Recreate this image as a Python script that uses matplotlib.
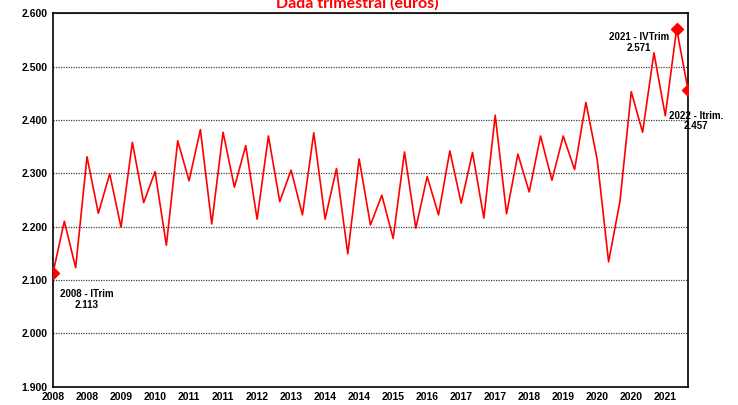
import numpy as np
import matplotlib.pyplot as plt
from matplotlib.ticker import FuncFormatter

# Quarterly values 2008 Q1 .. 2022 Q1 (euros)
values = [2113, 2210, 2123, 2331, 2225, 2299, 2199, 2358, 2245, 2303,
          2165, 2361, 2286, 2382, 2205, 2377, 2274, 2352, 2214, 2370,
          2247, 2306, 2222, 2376, 2214, 2309, 2149, 2327, 2203, 2259,
          2178, 2340, 2197, 2294, 2222, 2342, 2244, 2339, 2216, 2409,
          2224, 2336, 2265, 2370, 2287, 2370, 2307, 2433, 2325, 2134,
          2247, 2453, 2377, 2526, 2408, 2571, 2457]
years = [2008 + i // 4 for i in range(len(values))]
tick_idx = list(range(0, len(values), 3))
tick_labels = [str(years[i]) for i in tick_idx]
marked = [0, 55, 56]
notes = ["2008 - ITrim\n2.113", "2021 - IVTrim\n2.571", "2022 - Itrim.\n2.457"]

x = np.arange(len(values))

fig = plt.figure(figsize=(7.38, 4.05), dpi=100)
ax = fig.add_axes([0.0718, 0.0455, 0.8604, 0.9215])

ax.plot(x, values, color="#ff0000", linewidth=1.2, zorder=3)
ax.plot(x[marked], np.array(values)[marked], linestyle="none", marker="D",
        markersize=6, color="#ff0000", zorder=4)

ax.set_xlim(0, len(values) - 1)
ax.set_ylim(1900, 2600)
ax.set_yticks(np.arange(1900, 2601, 100))
ax.yaxis.set_major_formatter(FuncFormatter(lambda v, p: f"{v/1000:.3f}"))
ax.set_xticks(tick_idx)
ax.set_xticklabels(tick_labels)
ax.tick_params(length=0, labelsize=7.5, pad=4)
for lab in ax.get_xticklabels() + ax.get_yticklabels():
    lab.set_fontweight("bold")
    lab.set_family("Liberation Sans")

ax.yaxis.grid(True, linestyle=(0, (1, 1)), color="#444444", linewidth=0.9)
ax.set_axisbelow(True)
for s in ax.spines.values():
    s.set_linewidth(1.2)
    s.set_color("black")

# annotations
ax.text(3.0, 2063, notes[0], ha="center", va="center", fontsize=7,
        fontweight="bold", family="Liberation Sans", linespacing=1.1)
ax.text(51.7, 2545, notes[1], ha="center", va="center", fontsize=7,
        fontweight="bold", family="Liberation Sans", linespacing=1.1)
ax.text(56.7, 2398, notes[2], ha="center", va="center", fontsize=7,
        fontweight="bold", family="Liberation Sans", linespacing=1.1)

# title, partly cut off at the top as in the source
fig.text(357 / 738, 1.0 - 3 / 405, "Dada trimestral (euros)", ha="center",
         va="center", color="#ff0000", fontsize=11.5, fontweight="bold",
         family="Lato")

fig.savefig("out.png", dpi=100)
